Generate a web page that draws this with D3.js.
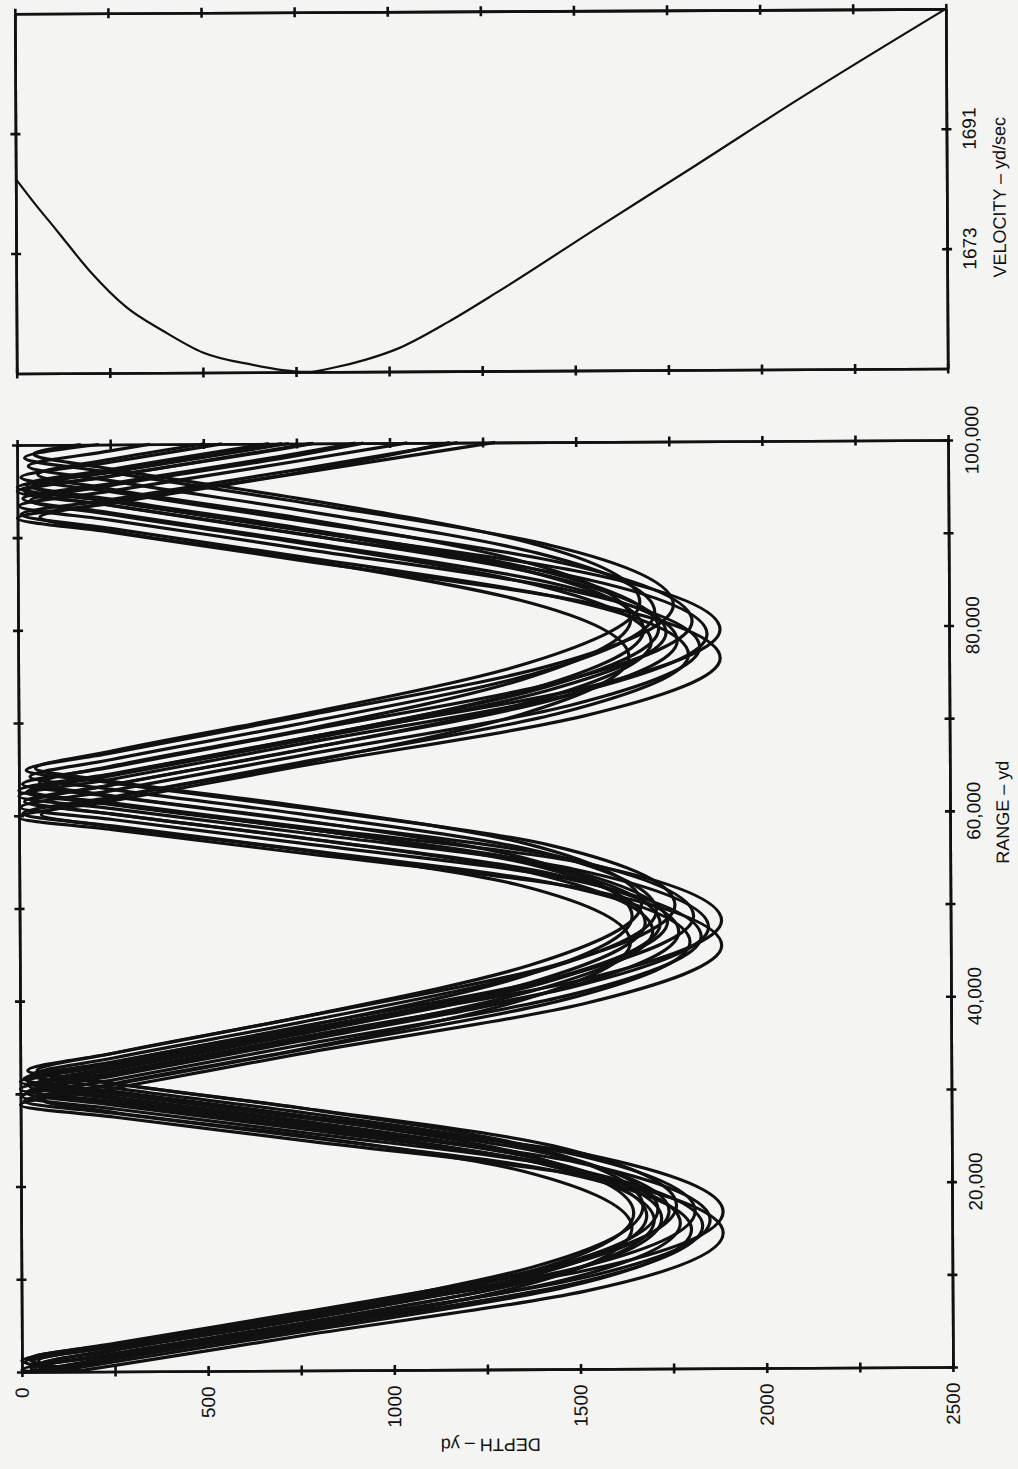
<!DOCTYPE html>
<html>
<head>
<meta charset="utf-8">
<script src="https://cdnjs.cloudflare.com/ajax/libs/d3/7.8.5/d3.min.js"></script>
<style>
  body { margin: 0; background: #f4f4f2; }
  text { font-family: "Liberation Sans", Arial, sans-serif; fill: #111; }
</style>
</head>
<body>
<div id="chart"></div>
<script>
// ---- data ----
var depthTicks = [0, 250, 500, 750, 1000, 1250, 1500, 1750, 2000, 2250, 2500];
var depthLabels = [0, 500, 1000, 1500, 2000, 2500];
var rangeTicks = [0, 10000, 20000, 30000, 40000, 50000, 60000, 70000, 80000, 90000, 100000];
var rangeLabels = [20000, 40000, 60000, 80000, 100000];
var velocityTicks = [1673, 1691];

// sound velocity profile: [depth yd, velocity yd/sec]
var velocityProfile = [[0, 1684.2], [45, 1680.9], [110, 1676.4], [198, 1670.3], [297, 1664.8],
  [393, 1661.3], [500, 1658.0], [634, 1656.1], [714, 1655.3], [780, 1655.0], [850, 1655.6],
  [938, 1656.8], [1027, 1658.5], [1160, 1662.4], [1294, 1666.9], [1561, 1676.4], [1829, 1685.8],
  [2096, 1695.3], [2500, 1709.0]];

// ray paths: [range yd, depth yd]
var ray1 = [[0,140],[650,250],[3750,750],[8400,1514],[14600,1885],[20800,1514],[24850,750],[27450,250],[28800,0],[30550,250],[34150,750],[39400,1514],[45600,1885],[51800,1514],[55850,750],[58450,250],[59800,0],[61550,250],[65150,750],[70400,1514],[76600,1885],[82800,1514],[87450,750],[90550,250],[92100,0],[93650,250],[96750,750],[100000,1284]];
var ray2 = [[0,170],[1200,0],[2770,250],[5910,750],[10620,1514],[16900,1885],[23180,1514],[27290,750],[29930,250],[31300,0],[33070,250],[36710,750],[42020,1514],[48300,1885],[54580,1514],[58690,750],[61330,250],[62700,0],[64470,250],[68110,750],[73420,1514],[79700,1885],[85980,1514],[90690,750],[93830,250],[95400,0],[96970,250],[100000,730]];
var ray3 = [[0,35],[1360,250],[4480,750],[9160,1477],[15400,1830],[21640,1477],[25720,750],[28340,250],[29700,5],[31460,250],[35080,750],[40360,1477],[46600,1830],[52840,1477],[56920,750],[59540,250],[60900,5],[62660,250],[66280,750],[71560,1477],[77800,1830],[84040,1477],[88720,750],[91840,250],[93400,5],[94960,250],[98080,750],[100000,1048]];
var ray4 = [[0,150],[1100,10],[2690,250],[5870,750],[10640,1463],[17000,1810],[23360,1463],[27530,750],[30210,250],[31600,10],[33390,250],[37070,750],[42440,1463],[48800,1810],[55160,1463],[59330,750],[62010,250],[63400,10],[65190,250],[68870,750],[74240,1463],[80600,1810],[86960,1463],[91730,750],[94910,250],[96500,10],[98090,250],[100000,550]];
var ray5 = [[0,15],[1570,250],[4710,750],[9420,1436],[15700,1770],[21980,1436],[26090,750],[28730,250],[30100,15],[31870,250],[35510,750],[40820,1436],[47100,1770],[53380,1436],[57490,750],[60130,250],[61500,15],[63270,250],[66910,750],[72220,1436],[78500,1770],[84780,1436],[89490,750],[92630,250],[94200,15],[95770,250],[98910,750],[100000,909]];
var ray6 = [[0,180],[1400,20],[3020,250],[6260,750],[11120,1430],[17600,1760],[24080,1430],[28340,750],[31080,250],[32500,20],[34320,250],[38060,750],[43520,1430],[50000,1760],[56480,1430],[60740,750],[63480,250],[64900,20],[66720,250],[70460,750],[75920,1430],[82400,1760],[88880,1430],[93740,750],[96980,250],[98600,20],[100000,220]];
var ray7 = [[0,40],[300,25],[1890,250],[5070,750],[9840,1403],[16200,1720],[22560,1403],[26730,750],[29410,250],[30800,25],[32590,250],[36270,750],[41640,1403],[48000,1720],[54360,1403],[58530,750],[61210,250],[62600,25],[64390,250],[68070,750],[73440,1403],[79800,1720],[86160,1403],[90930,750],[94110,250],[95700,25],[97290,250],[100000,676]];
var ray8 = [[0,130],[1100,30],[2710,250],[5930,750],[10760,1396],[17200,1710],[23640,1396],[27870,750],[30590,250],[32000,30],[33810,250],[37530,750],[42960,1396],[49400,1710],[55840,1396],[60070,750],[62790,250],[64200,30],[66010,250],[69730,750],[75160,1396],[81600,1710],[88040,1396],[92870,750],[96090,250],[97700,30],[99310,250],[100000,357]];
var ray9 = [[0,90],[700,40],[2280,250],[5440,750],[10180,1376],[16500,1680],[22820,1376],[26960,750],[29620,250],[31000,40],[32780,250],[36440,750],[41780,1376],[48100,1680],[54420,1376],[58560,750],[61220,250],[62600,40],[64380,250],[68040,750],[73380,1376],[79700,1680],[86020,1376],[90760,750],[93920,250],[95500,40],[97080,250],[100000,712]];
var ray10 = [[0,110],[1200,45],[2830,250],[6090,750],[10980,1369],[17500,1670],[24020,1369],[28310,750],[31070,250],[32500,45],[34330,250],[38090,750],[43580,1369],[50100,1670],[56620,1369],[60910,750],[63670,250],[65100,45],[66930,250],[70690,750],[76180,1369],[82700,1670],[89220,1369],[94110,750],[97370,250],[99000,45],[100000,171]];
var ray11 = [[0,100],[800,55],[2400,250],[5600,750],[10400,1352],[16800,1645],[23200,1352],[27400,750],[30100,250],[31500,55],[33300,250],[37000,750],[42400,1352],[48800,1645],[55200,1352],[59400,750],[62100,250],[63500,55],[65300,250],[69000,750],[74400,1352],[80800,1645],[87200,1352],[92000,750],[95200,250],[96800,55],[98400,250],[100000,500]];
var ray12 = [[0,75],[1340,250],[4420,750],[9040,1349],[15200,1640],[21360,1349],[25380,750],[27960,250],[29300,60],[31040,250],[34620,750],[39840,1349],[46000,1640],[52160,1349],[56180,750],[58760,250],[60100,60],[61840,250],[65420,750],[70640,1349],[76800,1640],[82960,1349],[87580,750],[90660,250],[92200,60],[93740,250],[96820,750],[100000,1162]];
var ray13 = [[0,30],[200,0],[1780,250],[4940,750],[9680,1490],[16000,1850],[22320,1490],[26460,750],[29120,250],[30500,0],[32280,250],[35940,750],[41280,1490],[47600,1850],[53920,1490],[58060,750],[60720,250],[62100,0],[63880,250],[67540,750],[72880,1490],[79200,1850],[85520,1490],[90260,750],[93420,250],[95000,0],[96580,250],[99740,750],[100000,790]];
var ray14 = [[0,160],[1400,20],[2960,250],[6080,750],[10760,1416],[17000,1740],[23240,1416],[27320,750],[29940,250],[31300,20],[33060,250],[36680,750],[41960,1416],[48200,1740],[54440,1416],[58520,750],[61140,250],[62500,20],[64260,250],[67880,750],[73160,1416],[79400,1740],[85640,1416],[90320,750],[93440,250],[95000,20],[96560,250],[99680,750],[100000,796]];
var ray15 = [[0,85],[1050,250],[4150,750],[8800,1457],[15000,1800],[21200,1457],[25250,750],[27850,250],[29200,10],[30950,250],[34550,750],[39800,1457],[46000,1800],[52200,1457],[56250,750],[58850,250],[60200,10],[61950,250],[65550,750],[70800,1457],[77000,1800],[83200,1457],[87850,750],[90950,250],[92500,10],[94050,250],[97150,750],[100000,1183]];
var ray16 = [[0,60],[400,35],[1960,250],[5080,750],[9760,1389],[16000,1700],[22240,1389],[26320,750],[28940,250],[30300,35],[32060,250],[35680,750],[40960,1389],[47200,1700],[53440,1389],[57520,750],[60140,250],[61500,35],[63260,250],[66880,750],[72160,1389],[78400,1700],[84640,1389],[89320,750],[92440,250],[94000,35],[95560,250],[98680,750],[100000,930]];
var rays = [ray1, ray2, ray3, ray4, ray5, ray6, ray7, ray8, ray9, ray10, ray11, ray12, ray13, ray14, ray15, ray16];

// ---- drawing ----
var width = 1018, height = 1469;
var ink = "#111";

var svg = d3.select("#chart").append("svg")
    .attr("width", width)
    .attr("height", height);

svg.append("rect").attr("width", width).attr("height", height).attr("fill", "#f4f4f2");

// the scanned page sits a little crooked
var page = svg.append("g").attr("transform", "rotate(-0.3, 485, 904)");

var x = d3.scaleLinear().domain([0, 2500]).range([19.5, 950.5]);      // depth, shared
var yRange = d3.scaleLinear().domain([0, 100000]).range([1369.5, 442.5]);
var yVel = d3.scaleLinear().domain([1655, 1709]).range([371, 11.3]);

// axis line with ticks crossing it on both sides
function crossAxis(horizontal, scale, values, tx, ty) {
    var pair = horizontal ? [d3.axisBottom, d3.axisTop] : [d3.axisLeft, d3.axisRight];
    pair.forEach(function (a) {
        page.append("g")
            .attr("transform", "translate(" + tx + "," + ty + ")")
            .call(a(scale).tickValues(values).tickSize(5).tickSizeOuter(0).tickFormat(""))
            .call(function (g) {
                g.selectAll("path, line").attr("stroke", ink).attr("stroke-width", 2.6);
            });
    });
}

// main panel: depth vs range
crossAxis(true, x, depthTicks, 0, yRange(0));
crossAxis(true, x, depthTicks, 0, yRange(100000));
crossAxis(false, yRange, rangeTicks, x(0), 0);
crossAxis(false, yRange, rangeTicks, x(2500), 0);

// velocity panel
crossAxis(true, x, depthTicks, 0, yVel(1655));
crossAxis(true, x, depthTicks, 0, yVel(1709));
crossAxis(false, yVel, velocityTicks, x(0), 0);
crossAxis(false, yVel, velocityTicks, x(2500), 0);

// rays
var rayLine = d3.line()
    .x(function (d) { return x(d[1]); })
    .y(function (d) { return yRange(d[0]); })
    .curve(d3.curveMonotoneY);

page.append("g")
    .selectAll("path")
    .data(rays)
    .enter()
    .append("path")
    .attr("d", rayLine)
    .attr("fill", "none")
    .attr("stroke", ink)
    .attr("stroke-width", 3.2)
    .attr("stroke-linejoin", "round");

// velocity profile
var velLine = d3.line()
    .x(function (d) { return x(d[0]); })
    .y(function (d) { return yVel(d[1]); })
    .curve(d3.curveMonotoneX);

page.append("path")
    .datum(velocityProfile)
    .attr("d", velLine)
    .attr("fill", "none")
    .attr("stroke", ink)
    .attr("stroke-width", 2.2);

// labels (page is turned, so text runs upward)
page.append("g").selectAll("text")
    .data(depthLabels)
    .enter()
    .append("text")
    .attr("transform", function (d) { return "translate(" + x(d) + "," + 1385 + ") rotate(-90)"; })
    .attr("text-anchor", "end")
    .attr("dy", "0.35em")
    .attr("font-size", 19)
    .text(function (d) { return d; });

page.append("g").selectAll("text")
    .data(rangeLabels)
    .enter()
    .append("text")
    .attr("transform", function (d) { return "translate(" + 974 + "," + yRange(d) + ") rotate(-90)"; })
    .attr("text-anchor", "middle")
    .attr("dy", "0.35em")
    .attr("font-size", 19)
    .text(function (d) { return d3.format(",")(d); });

page.append("g").selectAll("text")
    .data(velocityTicks)
    .enter()
    .append("text")
    .attr("transform", function (d) { return "translate(" + 973 + "," + yVel(d) + ") rotate(-90)"; })
    .attr("text-anchor", "middle")
    .attr("dy", "0.35em")
    .attr("font-size", 19)
    .text(function (d) { return d; });

page.append("text")
    .attr("transform", "translate(1003,200) rotate(-90)")
    .attr("text-anchor", "middle")
    .attr("dy", "0.35em")
    .attr("font-size", 18)
    .text("VELOCITY – yd/sec");

page.append("text")
    .attr("transform", "translate(1003,815) rotate(-90)")
    .attr("text-anchor", "middle")
    .attr("dy", "0.35em")
    .attr("font-size", 18)
    .text("RANGE – yd");

page.append("text")
    .attr("transform", "translate(488,1445) rotate(180)")
    .attr("text-anchor", "middle")
    .attr("dy", "0.35em")
    .attr("font-size", 18)
    .text("DEPTH – yd");
</script>
</body>
</html>
